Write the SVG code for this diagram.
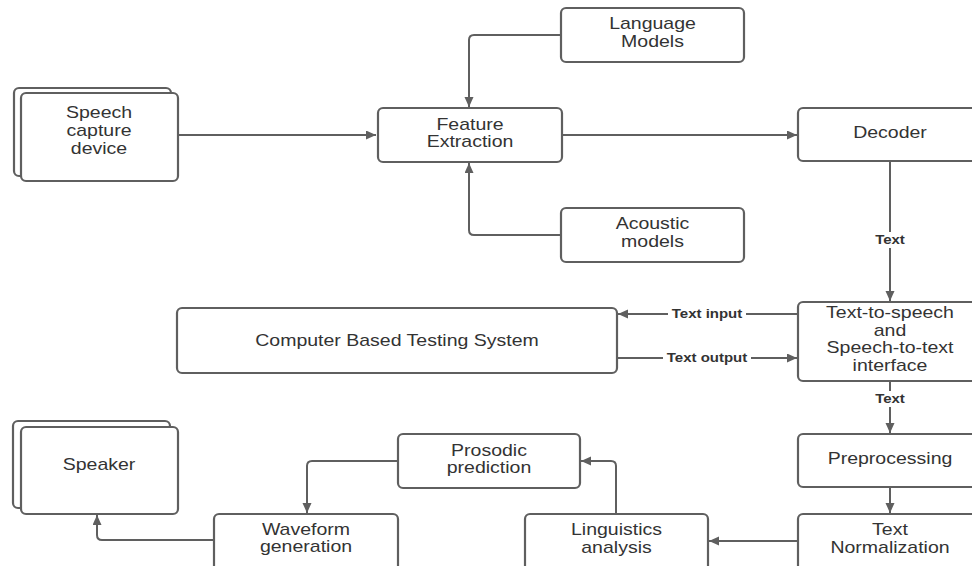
<svg xmlns="http://www.w3.org/2000/svg" width="972" height="566" viewBox="0 0 972 566">
<defs>
<style>
.box{fill:#fff;stroke:#5f5f5f;stroke-width:2.2}
.c{fill:none;stroke:#5f5f5f;stroke-width:2}
.t{font-family:"Liberation Sans",Arial,sans-serif;font-size:16px;fill:#333;text-anchor:middle}
.l{font-family:"Liberation Sans",Arial,sans-serif;font-size:12.5px;font-weight:bold;fill:#333;text-anchor:middle}
.bg{fill:#fff}
</style>
<marker id="ah" markerUnits="userSpaceOnUse" markerWidth="11" markerHeight="10" refX="10" refY="4.5" orient="auto">
<path d="M0,0 L10,4.5 L0,9 z" fill="#5f5f5f"/>
</marker>
</defs>
<rect width="972" height="566" fill="#fff"/>

<g id="connectors">
<path class="c" d="M178,135 H376" marker-end="url(#ah)"/>
<path class="c" d="M562,135 H797" marker-end="url(#ah)"/>
<path class="c" d="M561,35 H474 Q469,35 469,40 V107" marker-end="url(#ah)"/>
<path class="c" d="M561,235 H474 Q469,235 469,230 V163" marker-end="url(#ah)"/>
<path class="c" d="M890,161 V301" marker-end="url(#ah)"/>
<rect class="bg" x="872" y="232" width="36" height="16"/>
<text class="l" transform="translate(890,0) scale(1.2,1)" y="244">Text</text>
<path class="c" d="M798,314 H618" marker-end="url(#ah)"/>
<rect class="bg" x="668" y="306" width="78" height="16"/>
<text class="l" transform="translate(707,0) scale(1.2,1)" y="318">Text input</text>
<path class="c" d="M617,358 H797" marker-end="url(#ah)"/>
<rect class="bg" x="663" y="350" width="88" height="16"/>
<text class="l" transform="translate(707,0) scale(1.2,1)" y="362">Text output</text>
<path class="c" d="M890,381 V433" marker-end="url(#ah)"/>
<rect class="bg" x="872" y="391" width="36" height="16"/>
<text class="l" transform="translate(890,0) scale(1.2,1)" y="403">Text</text>
<path class="c" d="M890,487 V513" marker-end="url(#ah)"/>
<path class="c" d="M798,541 H709" marker-end="url(#ah)"/>
<path class="c" d="M616,514 V466 Q616,461 611,461 H581" marker-end="url(#ah)"/>
<path class="c" d="M398,461 H312 Q307,461 307,466 V513" marker-end="url(#ah)"/>
<path class="c" d="M214,540 H102 Q97,540 97,535 V515" marker-end="url(#ah)"/>
</g>

<g id="speech-capture">
<rect class="box" x="14" y="88" width="157" height="88" rx="5"/>
<rect class="box" x="21" y="93" width="157" height="88" rx="5"/>
<text class="t" transform="translate(99,0) scale(1.22,1)"><tspan x="0" y="118">Speech</tspan><tspan x="0" y="136">capture</tspan><tspan x="0" y="154">device</tspan></text>
</g>

<g id="feature-extraction">
<rect class="box" x="378" y="108" width="184" height="54" rx="5"/>
<text class="t" transform="translate(470,0) scale(1.22,1)"><tspan x="0" y="130">Feature</tspan><tspan x="0" y="147">Extraction</tspan></text>
</g>

<g id="language-models">
<rect class="box" x="561" y="8" width="183" height="54" rx="5"/>
<text class="t" transform="translate(652.5,0) scale(1.22,1)"><tspan x="0" y="29">Language</tspan><tspan x="0" y="47">Models</tspan></text>
</g>

<g id="acoustic-models">
<rect class="box" x="561" y="208" width="183" height="54" rx="5"/>
<text class="t" transform="translate(652.5,0) scale(1.22,1)"><tspan x="0" y="229">Acoustic</tspan><tspan x="0" y="247">models</tspan></text>
</g>

<g id="decoder">
<rect class="box" x="798" y="108" width="186" height="53" rx="5"/>
<text class="t" transform="translate(890,0) scale(1.22,1)" y="138">Decoder</text>
</g>

<g id="tts-interface">
<rect class="box" x="798" y="302" width="186" height="79" rx="5"/>
<text class="t" transform="translate(890,0) scale(1.22,1)"><tspan x="0" y="318">Text-to-speech</tspan><tspan x="0" y="336">and</tspan><tspan x="0" y="353">Speech-to-text</tspan><tspan x="0" y="371">interface</tspan></text>
</g>

<g id="cbt-system">
<rect class="box" x="177" y="308" width="440" height="65" rx="5"/>
<text class="t" transform="translate(397,0) scale(1.22,1)" y="346">Computer Based Testing System</text>
</g>

<g id="preprocessing">
<rect class="box" x="798" y="434" width="186" height="53" rx="5"/>
<text class="t" transform="translate(890,0) scale(1.22,1)" y="464">Preprocessing</text>
</g>

<g id="text-normalization">
<rect class="box" x="798" y="514" width="186" height="62" rx="5"/>
<text class="t" transform="translate(890,0) scale(1.22,1)"><tspan x="0" y="535">Text</tspan><tspan x="0" y="553">Normalization</tspan></text>
</g>

<g id="linguistics-analysis">
<rect class="box" x="525" y="514" width="183" height="62" rx="5"/>
<text class="t" transform="translate(616.5,0) scale(1.22,1)"><tspan x="0" y="535">Linguistics</tspan><tspan x="0" y="553">analysis</tspan></text>
</g>

<g id="prosodic-prediction">
<rect class="box" x="398" y="434" width="182" height="54" rx="5"/>
<text class="t" transform="translate(489,0) scale(1.22,1)"><tspan x="0" y="456">Prosodic</tspan><tspan x="0" y="473">prediction</tspan></text>
</g>

<g id="waveform-generation">
<rect class="box" x="214" y="514" width="184" height="62" rx="5"/>
<text class="t" transform="translate(306,0) scale(1.22,1)"><tspan x="0" y="535">Waveform</tspan><tspan x="0" y="552">generation</tspan></text>
</g>

<g id="speaker">
<rect class="box" x="13" y="421" width="157" height="87" rx="5"/>
<rect class="box" x="21" y="427" width="157" height="87" rx="5"/>
<text class="t" transform="translate(99,0) scale(1.22,1)" y="470">Speaker</text>
</g>
</svg>
